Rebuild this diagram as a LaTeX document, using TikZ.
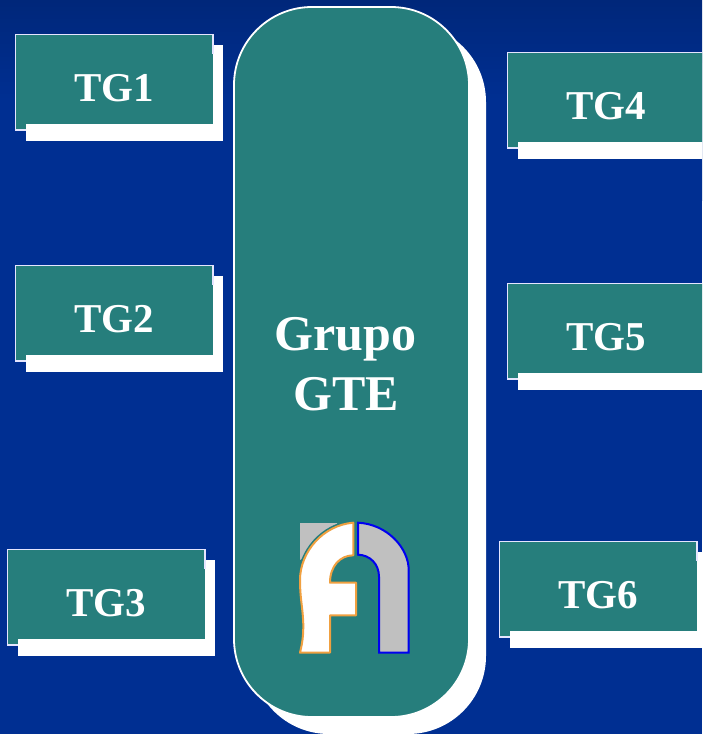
\documentclass[tikz,border=0pt]{standalone}
\usepackage{fontspec}
\setmainfont{Liberation Serif}
\definecolor{tealbox}{HTML}{267E7C}
\definecolor{bgtop}{HTML}{00277A}
\definecolor{bgbot}{HTML}{002F92}
\definecolor{logogray}{HTML}{C0C0C0}
\definecolor{logoorange}{HTML}{F0A040}
\definecolor{logoblue}{HTML}{0000F0}
\newcommand{\tgbox}[4]{%
  \fill[tealbox] (#1,#2+89.5) rectangle (#1+10.5,#2+95.5);
  \fill[white] (#1+10.5,#2+10.5) rectangle (#1+207.5,#2+106.5);
  \fill[tealbox] (#1,#2) rectangle (#1+197.5,#2+89.5);
  \draw[edgeline] (#1+197.5,#2+19) -- (#1+197.5,#2) -- (#1,#2) -- (#1,#2+95.5) -- (#1+10.5,#2+95.5);
  \node[tglabel] (#3) at (#1+98.5,#2+53.5) {#4};
}
\tikzset{
  edgeline/.style={draw=white!90!blue,line width=1.6pt,line join=miter},
  tglabel/.style={text=white,font=\fontsize{41}{44}\selectfont\bfseries,inner sep=0pt,anchor=center},
  biglabel/.style={text=white,font=\fontsize{50}{54}\selectfont\bfseries,inner sep=0pt,anchor=center},
}
\begin{document}
\begin{tikzpicture}[x=1pt,y=-1pt]
\useasboundingbox (0,0) rectangle (702,734);
\clip (0,0) rectangle (702,734);
\shade[top color=bgtop,bottom color=bgbot,middle color=bgbot,shading angle=0] (0,0) rectangle (702,200);
\fill[bgbot] (0,199) rectangle (702,734);
% central panel
\fill[white,rounded corners=78pt] (251,24) rectangle (486,734);
\fill[tealbox,rounded corners=78pt] (234,7) rectangle (469,717);
\draw[white,line width=1.8pt,rounded corners=78pt] (234,7) rectangle (469,717);
\node[biglabel] (grupo) at (345.5,339.5) {Grupo};
\node[biglabel] (gte) at (346,394.5) {GTE};
% boxes
\tgbox{15.5}{34.5}{tg1}{TG1}
\tgbox{15.5}{265.5}{tg2}{TG2}
\tgbox{7.5}{549.5}{tg3}{TG3}
\tgbox{507.5}{52.5}{tg4}{TG4}
\tgbox{507.5}{283.5}{tg5}{TG5}
\tgbox{499.5}{541.5}{tg6}{TG6}
% logo
\fill[logogray] (300,523) -- (337,523) -- (337,540) -- (300,560) -- cycle;
\path[fill=tealbox,draw=tealbox,line width=5pt]
  (353.3,522.7) .. controls (323,525) and (300,552) .. (300,580)
  -- (300,600) -- (300,652.7) -- (330,652.7) -- (330,582.7) -- (353.3,555.3) -- cycle;
\path[fill=white,draw=logoorange,line width=2pt,line join=round]
  (353.3,522.7) .. controls (323,525) and (300,552) .. (300,580)
  .. controls (300,600) and (303.3,610) .. (303.3,626.7)
  .. controls (303.3,640) and (301,648) .. (300,652.7)
  -- (330,652.7) -- (330,615.3) -- (356,615.3) -- (356,582.7) -- (330,582.7)
  .. controls (330,566) and (340,555.5) .. (353.3,555.3) -- cycle;
\path[fill=logogray,draw=logoblue,line width=2pt,line join=miter]
  (358,522.7) .. controls (387,524) and (408.7,548) .. (408.7,570)
  -- (408.7,652.7) -- (379,652.7) -- (379,576.7)
  .. controls (379,564) and (370,555) .. (358,554.7) -- cycle;
\end{tikzpicture}
\end{document}
